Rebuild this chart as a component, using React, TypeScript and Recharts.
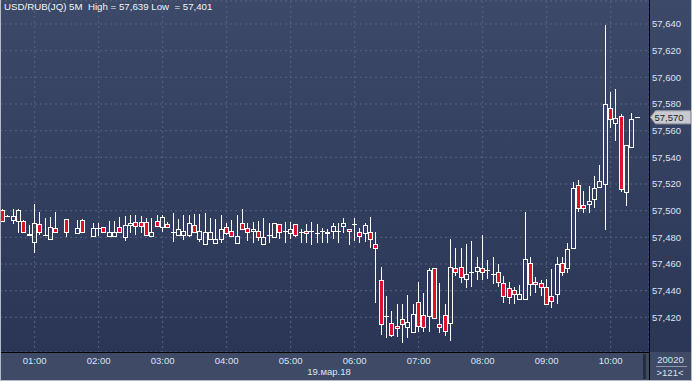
import React from 'react';
import { ComposedChart, Bar, XAxis, YAxis, CartesianGrid, ReferenceLine } from 'recharts';

const times: string[] = [
  '00:30', '00:35', '00:40', '00:45', '00:50', '00:55',
  '01:00', '01:05', '01:10', '01:15', '01:20', '01:25', '01:30', '01:35', '01:40', '01:45', '01:50', '01:55',
  '02:00', '02:05', '02:10', '02:15', '02:20', '02:25', '02:30', '02:35', '02:40', '02:45', '02:50', '02:55',
  '03:00', '03:05', '03:10', '03:15', '03:20', '03:25', '03:30', '03:35', '03:40', '03:45', '03:50', '03:55',
  '04:00', '04:05', '04:10', '04:15', '04:20', '04:25', '04:30', '04:35', '04:40', '04:45', '04:50', '04:55',
  '05:00', '05:05', '05:10', '05:15', '05:20', '05:25', '05:30', '05:35', '05:40', '05:45', '05:50', '05:55',
  '06:00', '06:05', '06:10', '06:15', '06:20', '06:25', '06:30', '06:35', '06:40', '06:45', '06:50', '06:55',
  '07:00', '07:05', '07:10', '07:15', '07:20', '07:25', '07:30', '07:35', '07:40', '07:45', '07:50', '07:55',
  '08:00', '08:05', '08:10', '08:15', '08:20', '08:25', '08:30', '08:35', '08:40', '08:45', '08:50', '08:55',
  '09:00', '09:05', '09:10', '09:15', '09:20', '09:25', '09:30', '09:35', '09:40', '09:45', '09:50', '09:55',
  '10:00', '10:05', '10:10', '10:15', '10:20', '10:25',
];

// prices in points (57,500 = 57.500 RUB); null = no bar in that slot
const opens: (number | null)[] = [
  57500.5, 57496.2, 57493, 57492.3, 57492.5, 57482.5,
  57476.8, 57489.8, 57481.6, 57478.5, 57486.8, null, 57493.5, null, 57483, 57493, null, 57481,
  57486.8, 57487.5, 57481, 57481.2, 57487.5, 57480.5, 57489.5, 57491.8, 57491.8, 57491.8, 57481, 57492.5,
  57488, 57489.8, 57484, 57481.8, 57481.8, 57481.8, 57489.2, 57478.8, 57474.8, 57478.5, 57475.5, 57478.5,
  57487.5, 57484.8, 57475.5, 57490.5, 57486.8, 57484.8, 57484.8, 57474.8, 57481.8, 57480.2, 57489.8, 57484.8,
  57483, 57489.8, 57484, 57484.8, 57484.8, 57483, 57484.8, 57483, 57484.8, 57484.8, 57488.8, 57486.2,
  57489.8, 57484.2, 57483, 57484.2, 57475, 57448, 57421.2, 57415.5, 57413.5, 57418.5, 57413, 57409.2,
  57431.2, 57421.8, 57421.2, 57456.8, 57415, 57421.8, 57415.5, 57456.8, 57457.5, 57448.8, 57454.2, 57455,
  57456.8, 57455.5, 57452.5, 57454.2, 57445.5, 57441.8, 57440.5, 57433.5, 57433.5, 57460.5, 57446.2, 57446,
  57443, 57436.2, 57437.2, 57460.5, 57456.8, 57471.8, 57519.2, 57504.2, 57505, 57508.5, 57517.5, 57519.8,
  57576.8, 57565.5, 57571, 57514.2, 57547.5, 57570,
];

const highs: (number | null)[] = [
  57501, 57496.5, 57501.2, 57501.2, 57493, 57489.2,
  57505, 57499.2, 57494.3, 57495.5, 57498.8, null, 57493.5, null, 57493, 57494, null, 57490.5,
  57490.5, 57488, 57492.5, 57492.5, 57495.5, 57496, 57496.8, 57496.8, 57496, 57494.3, 57494.3, 57496.8,
  57496.8, 57491.8, 57498, 57494, 57496.8, 57496.8, 57497.5, 57497.5, 57498, 57494.3, 57493.5, 57496.8,
  57490.5, 57493, 57496.8, 57501.2, 57491, 57491.7, 57492, 57494.3, 57491, 57491, 57490, 57491.7,
  57491.7, 57490, 57486, 57489.8, 57491.7, 57490, 57487, 57486, 57491, 57491, 57494.8, 57486.2,
  57494.8, 57486.8, 57490.5, 57495.5, 57484.2, 57457.5, 57436, 57424.8, 57430, 57430, 57436.8, 57430,
  57446.8, 57438, 57457.2, 57457, 57445.5, 57430, 57478.5, 57471.8, 57471.8, 57474.8, 57477.2, 57465,
  57481.8, 57463, 57465.3, 57460, 57451, 57446.2, 57443, 57444, 57499.2, 57465, 57450, 57448,
  57449, 57456.5, 57465, 57465, 57475.5, 57521.8, 57523, 57515, 57518.8, 57526, 57534, 57639.2,
  57589.2, 57591.2, 57572.2, 57549.2, 57573, 57570.3,
];

const lows: (number | null)[] = [
  57491.5, 57496, 57489.8, 57483.5, 57483.5, 57481.8,
  57468.5, 57481.8, 57481.2, 57478.5, 57483.8, null, 57480.5, null, 57483, 57483.8, null, 57480.5,
  57481, 57483.5, 57481, 57481.2, 57483.8, 57477.2, 57483, 57481.8, 57483, 57481.8, 57481, 57488,
  57484.2, 57486.8, 57476.8, 57481, 57478, 57480, 57483.5, 57476.8, 57474.8, 57478, 57475.5, 57475.5,
  57481.8, 57481, 57475.5, 57485.5, 57477, 57476, 57477, 57474.8, 57476, 57480, 57479, 57476,
  57479, 57480, 57476, 57476, 57474.5, 57476, 57476, 57476, 57479, 57476, 57483, 57474,
  57477, 57476, 57476.8, 57471.8, 57430.5, 57406.8, 57404.3, 57405.5, 57405.5, 57400.5, 57404.3, 57409,
  57409, 57409.2, 57409.2, 57418.5, 57408.5, 57406, 57402.5, 57451, 57445.5, 57441.8, 57442.5, 57448,
  57448, 57448.5, 57445, 57442.5, 57431, 57430, 57430, 57433, 57433.5, 57436, 57438, 57436,
  57429, 57426.8, 57430, 57451, 57453, 57471.5, 57499.2, 57498, 57498, 57501.8, 57516.8, 57485.5,
  57561.8, 57552.2, 57514.2, 57503.5, 57547.5, 57569.8,
];

const closes: (number | null)[] = [
  57492.3, 57496.2, 57496.2, 57500.5, 57483.8, 57482,
  57490.5, 57483.8, 57481.6, 57488, 57483.8, null, 57483.8, null, 57487.2, 57483.8, null, 57487.2,
  57486.8, 57483.8, 57484.2, 57483.8, 57483.8, 57489.2, 57490.5, 57488.5, 57488.5, 57481.8, 57483.8, 57488.5,
  57495, 57488, 57484, 57486, 57484.8, 57490.5, 57483.8, 57484.8, 57484.2, 57484.2, 57478.5, 57486,
  57483, 57481, 57481, 57486, 57483.8, 57486.2, 57480, 57480.5, 57481.8, 57490.5, 57483.8, 57484.8,
  57486.2, 57481.8, 57484, 57483, 57484.8, 57483, 57484.8, 57484.2, 57488.8, 57484.8, 57490.5, 57484.8,
  57489.8, 57481, 57489.2, 57478.5, 57471.8, 57414.8, 57421.2, 57406.8, 57411.8, 57414.8, 57416.2, 57422.5,
  57413.5, 57413, 57455.5, 57419.2, 57413, 57410, 57457.5, 57454.2, 57450.5, 57452.2, 57454.2, 57457.5,
  57454.2, 57455.5, 57452.5, 57446.2, 57436.2, 57435.5, 57437.2, 57437.5, 57463.5, 57444.8, 57444.8, 57442.5,
  57430, 57432.5, 57459.8, 57453.8, 57471, 57516.8, 57501.8, 57501.8, 57507.5, 57516.8, 57522.2, 57579.8,
  57568.8, 57569.8, 57516, 57549.2, 57568.5, 57570,
];

const hourTicks: string[] = ['01:00', '02:00', '03:00', '04:00', '05:00', '06:00', '07:00', '08:00', '09:00', '10:00'];
const priceTicks: number[] = [57420, 57440, 57460, 57480, 57500, 57520, 57540, 57560, 57580, 57600, 57620, 57640];
const priceDomain: [number, number] = [57394, 57657.25];

const title = 'USD/RUB(JQ) 5M  High = 57,639 Low  = 57,401';
const dateLabel = '19.мар.18';
const boxTop = '20020';
const boxBottom = '>121<';

const data = times.map((t, i) => ({
  t,
  o: opens[i],
  h: highs[i],
  l: lows[i],
  c: closes[i],
  range: opens[i] == null ? null : [lows[i], highs[i]],
}));

const lastClose = closes[closes.length - 1] as number;

const fmt = (v: number) => {
  const r = Math.round(v);
  return `${Math.floor(r / 1000)},${String(r % 1000).padStart(3, '0')}`;
};

const FONT = '"Liberation Sans", Arial, sans-serif';
const TEXT = '#dbe3f3';
const RED = '#e0102c';

const Candle = (props: any) => {
  const { x, y, width, height, payload } = props;
  if (!payload || payload.o == null) return null;
  const { o, h, l, c } = payload;
  const span = h - l;
  const k = span > 0 ? height / span : 0;
  const yOf = (v: number) => y + (h - v) * k;
  const cx = Math.floor(x + width / 2);
  const wx = cx + 0.5;
  const yH = Math.round(yOf(h));
  const yL = Math.round(yOf(l));
  const t = Math.round(yOf(Math.max(o, c))) + 0.5;
  const b = Math.round(yOf(Math.min(o, c))) + 0.5;
  const up = c >= o;
  if (b - t < 1) {
    return (
      <g>
        <line x1={wx} x2={wx} y1={yH} y2={yL} stroke="#fff" strokeWidth={1} />
        <line x1={cx - 2} x2={cx + 3} y1={t} y2={t} stroke="#fff" strokeWidth={1} />
      </g>
    );
  }
  return (
    <g>
      {yH < t - 0.5 && <line x1={wx} x2={wx} y1={yH} y2={t} stroke="#fff" strokeWidth={1} />}
      {yL > b + 0.5 && <line x1={wx} x2={wx} y1={b} y2={yL} stroke="#fff" strokeWidth={1} />}
      <rect x={cx - 1.5} y={t} width={4} height={b - t} fill={up ? 'none' : RED} stroke="#fff" strokeWidth={1} />
    </g>
  );
};

const PriceTag = (props: any) => {
  const vb = props.viewBox || {};
  const right = (vb.x || 0) + (vb.width || 0);
  const yc = vb.y || 0;
  const tip = right + 1.5;
  return (
    <g>
      <polygon
        points={`${tip},${yc} ${tip + 5},${yc - 6.5} ${tip + 40},${yc - 6.5} ${tip + 40},${yc + 6.5} ${tip + 5},${yc + 6.5}`}
        fill="#c8cacf"
        stroke="#9da2ab"
        strokeWidth={1}
      />
      <text x={tip + 4} y={yc} dy="0.35em" fontFamily={FONT} fontSize={9.5} fill="#1b1e26">
        {fmt(lastClose)}
      </text>
    </g>
  );
};

export default function App() {
  return (
    <div
      style={{
        position: 'absolute',
        left: 0,
        top: 0,
        width: 692,
        height: 381,
        background: 'linear-gradient(to bottom, #3c4968 0px, #2b3656 352px, #3e4a66 352px, #3e4a66 381px)',
        overflow: 'hidden',
      }}
    >
      <ComposedChart width={692} height={381} data={data} margin={{ top: 1, right: 0, bottom: 1, left: 0 }}>
        <CartesianGrid stroke="#56627f" strokeDasharray="2 3" />
        <XAxis
          dataKey="t"
          ticks={hourTicks}
          interval={0}
          height={28}
          padding={{ left: 0, right: 9 }}
          axisLine={false}
          tickLine={false}
          tickSize={0}
          tickMargin={5}
          tick={{ fill: TEXT, fontSize: 9.5, fontFamily: FONT }}
        />
        <YAxis
          orientation="right"
          type="number"
          domain={priceDomain}
          allowDataOverflow
          ticks={priceTicks}
          width={43}
          axisLine={false}
          tickLine={false}
          tickSize={0}
          tickMargin={3}
          tickFormatter={fmt}
          tick={{ fill: TEXT, fontSize: 9.5, fontFamily: FONT, textAnchor: 'start' }}
        />
        <Bar dataKey="range" shape={<Candle />} isAnimationActive={false} />
        <ReferenceLine y={lastClose} stroke="none" label={(p: any) => <PriceTag {...p} />} />
      </ComposedChart>
      <svg
        width={692}
        height={381}
        style={{ position: 'absolute', left: 0, top: 0, pointerEvents: 'none' }}
      >
        <text x={4} y={10} fontFamily={FONT} fontSize={9.7} fill="#f2f4f8" style={{ whiteSpace: 'pre' }}>
          {title}
        </text>
        <line x1={0} x2={649} y1={352.5} y2={352.5} stroke="#000" strokeWidth={1} />
        <line x1={649.5} x2={649.5} y1={0} y2={381} stroke="#000" strokeWidth={1} />
        <rect x={643} y={354} width={3} height={25} fill="#262d3d" />
        <text x={329} y={375} textAnchor="middle" fontFamily={FONT} fontSize={9.5} fill={TEXT}>
          {dateLabel}
        </text>
        <text x={670.5} y={363} textAnchor="middle" fontFamily={FONT} fontSize={9.5} fill={TEXT}>
          {boxTop}
        </text>
        <line x1={656} x2={687} y1={366.5} y2={366.5} stroke="#8d96ab" strokeWidth={1} />
        <text x={670} y={376} textAnchor="middle" fontFamily={FONT} fontSize={9.5} fill={TEXT}>
          {boxBottom}
        </text>
        <line x1={0.5} x2={0.5} y1={0} y2={381} stroke="#b4bac6" strokeWidth={1} />
        <line x1={691.5} x2={691.5} y1={0} y2={381} stroke="#b4bac6" strokeWidth={1} />
        <line x1={0} x2={692} y1={380.5} y2={380.5} stroke="#b4bac6" strokeWidth={1} />
      </svg>
    </div>
  );
}
